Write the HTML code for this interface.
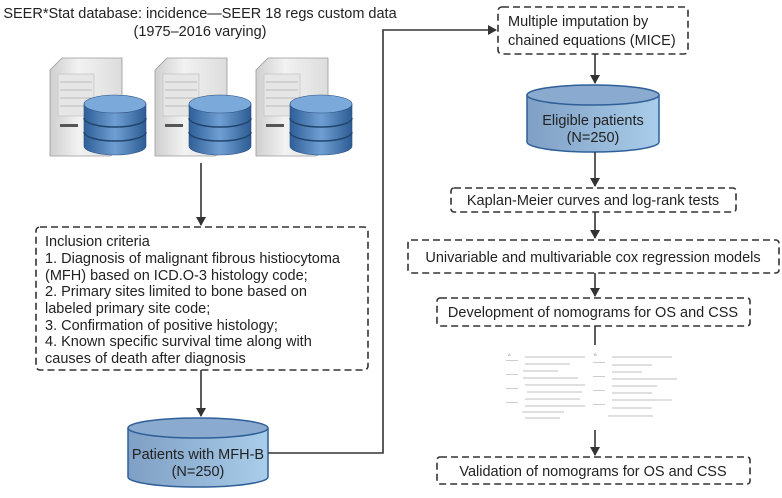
<!DOCTYPE html>
<html><head><meta charset="utf-8"><style>
body{margin:0;background:#fff;width:782px;height:493px;overflow:hidden;font-family:"Liberation Sans",sans-serif;color:#222}
</style></head><body>
<svg width="782" height="493" viewBox="0 0 782 493" xmlns="http://www.w3.org/2000/svg" font-family="Liberation Sans, sans-serif" fill="#222">
<defs>
<marker id="ar" markerWidth="10" markerHeight="10" refX="8" refY="5" orient="auto" markerUnits="userSpaceOnUse"><path d="M0,0 L9,5 L0,10 z" fill="#333"/></marker>
<linearGradient id="cyl" x1="0" x2="1"><stop offset="0" stop-color="#7f9fc4"/><stop offset="1" stop-color="#a9cdea"/></linearGradient>
<linearGradient id="db" x1="0" x2="1"><stop offset="0" stop-color="#2f5f98"/><stop offset="0.5" stop-color="#6f9fd2"/><stop offset="1" stop-color="#2d5c94"/></linearGradient>
<linearGradient id="srv" x1="0" x2="1"><stop offset="0" stop-color="#cfcfcf"/><stop offset="0.4" stop-color="#f2f2f2"/><stop offset="1" stop-color="#dcdcdc"/></linearGradient>
<g id="server">
<path d="M0,12 L12,0 L72,0 L72,92 L60,98 L0,98 z" fill="url(#srv)" stroke="#999" stroke-width="0.8"/>
<rect x="8" y="16" width="36" height="42" fill="#e6e6e6" stroke="#bbb" stroke-width="0.6"/>
<line x1="10" y1="24" x2="42" y2="24" stroke="#bbb"/><line x1="10" y1="32" x2="42" y2="32" stroke="#bbb"/><line x1="10" y1="40" x2="42" y2="40" stroke="#bbb"/><line x1="10" y1="48" x2="42" y2="48" stroke="#bbb"/>
<rect x="10" y="66" width="18" height="3" fill="#555"/>
<g transform="translate(34,38)">
<path d="M0,8 L0,50 A31,9 0 0 0 62,50 L62,8 z" fill="url(#db)" stroke="#2a4f80" stroke-width="0.6"/>
<path d="M0,22 A31,9 0 0 0 62,22 M0,36 A31,9 0 0 0 62,36" fill="none" stroke="#22456e" stroke-width="1.5"/>
<ellipse cx="31" cy="8" rx="31" ry="9" fill="#7aa9da" stroke="#2a4f80" stroke-width="0.6"/>
</g>
</g>
</defs>
<text x="200" y="18" font-size="14.5" text-anchor="middle">SEER*Stat database: incidence—SEER 18 regs custom data</text>
<text x="200" y="36" font-size="14.5" text-anchor="middle">(1975–2016 varying)</text>
<use href="#server" x="50" y="58"/>
<use href="#server" x="155" y="58"/>
<use href="#server" x="256" y="58"/>
<line x1="201" y1="163" x2="201" y2="225" stroke="#333" stroke-width="1.6" marker-end="url(#ar)"/>
<rect x="36" y="227" width="332" height="143" rx="4" fill="none" stroke="#333" stroke-width="1.6" stroke-dasharray="7,4"/>
<g font-size="14.5">
<text x="45" y="246">Inclusion criteria</text>
<text x="45" y="263">1. Diagnosis of malignant fibrous histiocytoma</text>
<text x="45" y="280">(MFH) based on ICD.O-3 histology code;</text>
<text x="45" y="296">2. Primary sites limited to bone based on</text>
<text x="45" y="313">labeled primary site code;</text>
<text x="45" y="330">3. Confirmation of positive histology;</text>
<text x="45" y="346">4. Known specific survival time along with</text>
<text x="45" y="363">causes of death after diagnosis</text>
</g>
<line x1="201" y1="370" x2="201" y2="416" stroke="#333" stroke-width="1.6" marker-end="url(#ar)"/>
<path d="M128,428 L128,477 A70,10 0 0 0 268,477 L268,428" fill="url(#cyl)" stroke="#2f5f98" stroke-width="1.5"/>
<ellipse cx="198" cy="428" rx="70" ry="10" fill="#8aaad0" stroke="#2f5f98" stroke-width="1.5"/>
<text x="198" y="459" font-size="14.5" text-anchor="middle">Patients with MFH-B</text>
<text x="198" y="476" font-size="14.5" text-anchor="middle">(N=250)</text>
<polyline points="268,453 383,453 383,30 496,30" fill="none" stroke="#333" stroke-width="1.6" marker-end="url(#ar)"/>
<rect x="498" y="7" width="190" height="47" rx="4" fill="none" stroke="#333" stroke-width="1.6" stroke-dasharray="7,4"/>
<text x="508" y="26" font-size="14.5">Multiple imputation by</text>
<text x="508" y="45" font-size="14.5">chained equations (MICE)</text>
<line x1="595" y1="54" x2="595" y2="83" stroke="#333" stroke-width="1.6" marker-end="url(#ar)"/>
<path d="M527,95 L527,142 A66,10 0 0 0 659,142 L659,95" fill="url(#cyl)" stroke="#2f5f98" stroke-width="1.5"/>
<ellipse cx="593" cy="95" rx="66" ry="10" fill="#8aaad0" stroke="#2f5f98" stroke-width="1.5"/>
<text x="593" y="125" font-size="14.5" text-anchor="middle">Eligible patients</text>
<text x="593" y="142" font-size="14.5" text-anchor="middle">(N=250)</text>
<line x1="595" y1="152" x2="595" y2="186" stroke="#333" stroke-width="1.6" marker-end="url(#ar)"/>
<rect x="451" y="188" width="285" height="24" rx="3" fill="none" stroke="#333" stroke-width="1.6" stroke-dasharray="7,4"/>
<text x="593" y="205" font-size="14.5" text-anchor="middle">Kaplan-Meier curves and log-rank tests</text>
<line x1="595" y1="212" x2="595" y2="238" stroke="#333" stroke-width="1.6" marker-end="url(#ar)"/>
<rect x="408" y="240" width="371" height="33" rx="3" fill="none" stroke="#333" stroke-width="1.6" stroke-dasharray="7,4"/>
<text x="593" y="262" font-size="14.5" text-anchor="middle">Univariable and multivariable cox regression models</text>
<line x1="595" y1="273" x2="595" y2="296" stroke="#333" stroke-width="1.6" marker-end="url(#ar)"/>
<rect x="437" y="298" width="313" height="28" rx="3" fill="none" stroke="#333" stroke-width="1.6" stroke-dasharray="7,4"/>
<text x="593" y="317" font-size="14.5" text-anchor="middle">Development of nomograms for OS and CSS</text>
<line x1="595" y1="326" x2="595" y2="345" stroke="#333" stroke-width="1.6"/>
<g stroke="#aaa" stroke-width="0.7" fill="none">
<path d="M525,357 h60 M525,364 h45 M523,371 h35 M523,378 h55 M525,385 h60 M527,392 h55 M525,399 h55 M525,406 h60 M522,412 h42 M525,418 h35"/>
<path d="M612,357 h60 M612,365 h40 M612,372 h30 M612,379 h65 M612,386 h45 M612,393 h40 M612,400 h60 M612,408 h40 M608,416 h45"/>
</g>
<g fill="#888" font-size="4"><text x="508" y="356">A</text><text x="594" y="356">B</text></g>
<g fill="#ccc"><rect x="506" y="360" width="12" height="1"/><rect x="506" y="374" width="12" height="1"/><rect x="506" y="388" width="12" height="1"/><rect x="506" y="402" width="12" height="1"/><rect x="593" y="362" width="12" height="1"/><rect x="593" y="376" width="12" height="1"/><rect x="593" y="390" width="12" height="1"/><rect x="593" y="404" width="12" height="1"/></g>
<line x1="595" y1="430" x2="595" y2="455" stroke="#333" stroke-width="1.6" marker-end="url(#ar)"/>
<rect x="437" y="457" width="313" height="27" rx="3" fill="none" stroke="#333" stroke-width="1.6" stroke-dasharray="7,4"/>
<text x="593" y="476" font-size="14.5" text-anchor="middle">Validation of nomograms for OS and CSS</text>
</svg>
</body></html>
